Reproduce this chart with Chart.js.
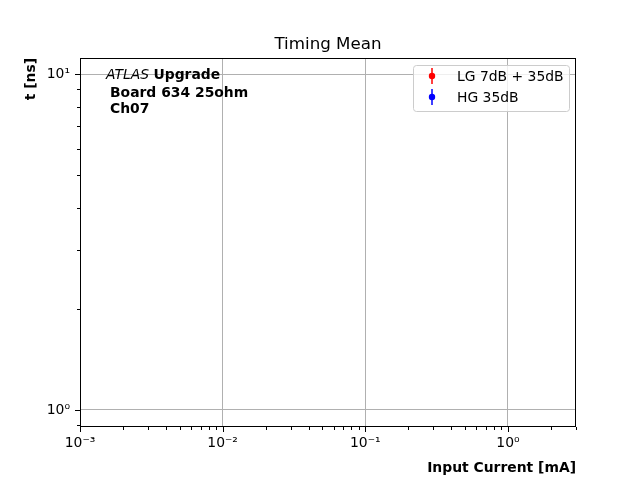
<!DOCTYPE html>
<html>
<head>
<meta charset="utf-8">
<script src="https://cdn.jsdelivr.net/npm/chart.js@4/dist/chart.umd.min.js"></script>
<style>
    html, body { margin: 0; padding: 0; background: #fff; }
    #wrap { width: 640px; height: 480px; }
</style>
</head>
<body>
<div id="wrap"><canvas id="myChart" width="640" height="480"></canvas></div>
<script>
// no point of either series falls inside the plotted range, so the series are empty
const lgCurrent = [];
const lgTiming = [];
const lgTimingErr = [];
const hgCurrent = [];
const hgTiming = [];
const hgTimingErr = [];

const seriesLabels = ['LG 7dB + 35dB', 'HG 35dB'];
const seriesColors = ['#ff0000', '#0000ff'];

const xRange = [1e-3, 3];
const yRange = [0.89, 11.16];
const xMajorTicks = [1e-3, 1e-2, 1e-1, 1];
const yMajorTicks = [1, 10];
const xTickLabels = ['10⁻³', '10⁻²', '10⁻¹', '10⁰'];
const yTickLabels = ['10⁰', '10¹'];

const FONT = '"DejaVu Sans", sans-serif';

function logTicks(min, max, majors) {
    const ticks = [];
    const lo = Math.floor(Math.log10(min));
    const hi = Math.ceil(Math.log10(max));
    for (let e = lo; e <= hi; e++) {
        for (let m = 1; m <= 9; m++) {
            const v = Number((m * Math.pow(10, e)).toPrecision(6));
            if (v < min * 0.9999 || v > max * 1.0001) continue;
            const major = majors.some(t => Math.abs(t - v) / t < 1e-6);
            ticks.push({ value: v, major });
        }
    }
    return ticks;
}

function labelFor(value, majors, labels) {
    const i = majors.findIndex(t => Math.abs(t - value) / t < 1e-6);
    return i >= 0 ? labels[i] : '';
}

function toPoints(xs, ys) {
    return xs.map((x, i) => ({ x, y: ys[i] }));
}

const decorations = {
    id: 'decorations',
    afterDraw(chart) {
        const ctx = chart.ctx;
        const a = chart.chartArea;
        const xs = chart.scales.x;
        const ys = chart.scales.y;
        ctx.save();

        // frame
        ctx.strokeStyle = '#000';
        ctx.lineWidth = 1;
        ctx.strokeRect(a.left + 0.5, a.top + 0.5, a.right - a.left - 1, a.bottom - a.top - 1);

        // tick marks
        ctx.beginPath();
        xs.ticks.forEach(t => {
            const px = Math.round(xs.getPixelForValue(t.value)) + 0.5;
            const len = t.major ? 5 : 3;
            ctx.moveTo(px, a.bottom);
            ctx.lineTo(px, a.bottom + len);
        });
        ys.ticks.forEach(t => {
            const py = Math.round(ys.getPixelForValue(t.value)) + 0.5;
            const len = t.major ? 5 : 3;
            ctx.moveTo(a.left, py);
            ctx.lineTo(a.left - len, py);
        });
        ctx.stroke();

        // title
        ctx.fillStyle = '#000';
        ctx.font = '16.7px ' + FONT;
        ctx.textAlign = 'center';
        ctx.textBaseline = 'alphabetic';
        ctx.fillText('Timing Mean', (a.left + a.right) / 2, 49);

        // axis titles
        ctx.font = 'bold 13.9px ' + FONT;
        ctx.textAlign = 'right';
        ctx.fillText('Input Current [mA]', a.right, 472);
        ctx.save();
        ctx.translate(35, a.top);
        ctx.rotate(-Math.PI / 2);
        ctx.textAlign = 'right';
        ctx.fillText('t [ns]', 0, 0);
        ctx.restore();

        // experiment label
        ctx.textAlign = 'left';
        ctx.font = 'italic 13.9px ' + FONT;
        ctx.fillText('ATLAS', 106, 79);
        const w = ctx.measureText('ATLAS ').width;
        ctx.font = 'bold 13.9px ' + FONT;
        ctx.fillText('Upgrade', 106 + w, 79);
        ctx.fillText('Board 634 25ohm', 110, 97);
        ctx.fillText('Ch07', 110, 113);

        // legend
        const lx = 413, ly = 65, lw = 156, lh = 46;
        ctx.beginPath();
        ctx.roundRect(lx + 0.5, ly + 0.5, lw, lh, 3);
        ctx.fillStyle = 'rgba(255,255,255,0.8)';
        ctx.fill();
        ctx.strokeStyle = '#cccccc';
        ctx.stroke();
        chart.data.datasets.forEach((ds, i) => {
            const cy = 76 + i * 21;
            const cx = 432;
            ctx.strokeStyle = ds.borderColor;
            ctx.lineWidth = 1.5;
            ctx.beginPath();
            ctx.moveTo(cx, cy - 8);
            ctx.lineTo(cx, cy + 8);
            ctx.stroke();
            ctx.fillStyle = ds.backgroundColor;
            ctx.beginPath();
            ctx.arc(cx, cy, 3.2, 0, Math.PI * 2);
            ctx.fill();
            ctx.fillStyle = '#000';
            ctx.font = '13.9px ' + FONT;
            ctx.textAlign = 'left';
            ctx.textBaseline = 'middle';
            ctx.fillText(ds.label, 457, cy + 1);
        });
        ctx.restore();
    }
};

function renderChart() {
    const ctx = document.getElementById('myChart');
    return new Chart(ctx, {
        type: 'scatter',
        data: {
            datasets: [
                {
                    label: seriesLabels[0],
                    data: toPoints(lgCurrent, lgTiming),
                    borderColor: seriesColors[0],
                    backgroundColor: seriesColors[0],
                    pointRadius: 3
                },
                {
                    label: seriesLabels[1],
                    data: toPoints(hgCurrent, hgTiming),
                    borderColor: seriesColors[1],
                    backgroundColor: seriesColors[1],
                    pointRadius: 3
                }
            ]
        },
        options: {
            responsive: false,
            animation: false,
            events: [],
            layout: { padding: { left: 0, right: 64, top: 58, bottom: 0 } },
            plugins: {
                legend: { display: false },
                title: { display: false },
                tooltip: { enabled: false }
            },
            scales: {
                x: {
                    type: 'logarithmic',
                    min: xRange[0],
                    max: xRange[1],
                    afterBuildTicks: s => { s.ticks = logTicks(xRange[0], xRange[1], xMajorTicks); },
                    afterFit: s => { s.height = 53; },
                    border: { display: false },
                    grid: {
                        drawTicks: false,
                        color: c => (c.tick && c.tick.major ? '#b0b0b0' : 'rgba(0,0,0,0)'),
                        lineWidth: 1
                    },
                    ticks: {
                        autoSkip: false,
                        maxRotation: 0,
                        padding: 8,
                        color: '#000',
                        font: { family: 'DejaVu Sans', size: 13.9 },
                        callback: v => labelFor(v, xMajorTicks, xTickLabels)
                    }
                },
                y: {
                    type: 'logarithmic',
                    min: yRange[0],
                    max: yRange[1],
                    afterBuildTicks: s => { s.ticks = logTicks(yRange[0], yRange[1], yMajorTicks); },
                    afterFit: s => { s.width = 80; },
                    border: { display: false },
                    grid: {
                        drawTicks: false,
                        color: c => (c.tick && c.tick.major ? '#b0b0b0' : 'rgba(0,0,0,0)'),
                        lineWidth: 1
                    },
                    ticks: {
                        autoSkip: false,
                        padding: 10,
                        color: '#000',
                        font: { family: 'DejaVu Sans', size: 13.9 },
                        callback: v => labelFor(v, yMajorTicks, yTickLabels)
                    }
                }
            }
        },
        plugins: [decorations]
    });
}

renderChart();
</script>
</body>
</html>
